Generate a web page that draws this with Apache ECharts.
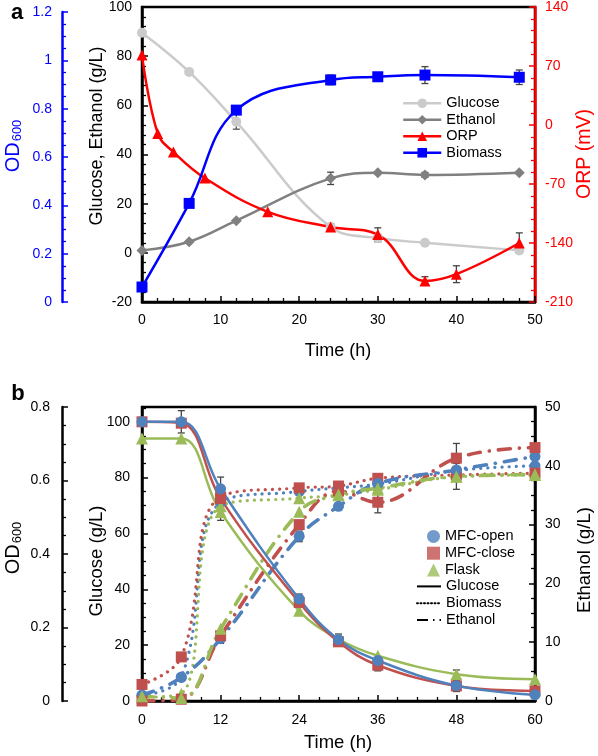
<!DOCTYPE html>
<html><head><meta charset="utf-8">
<script src="https://cdn.jsdelivr.net/npm/echarts/dist/echarts.min.js"></script>
<style>html,body{margin:0;padding:0;background:#fff}#c{width:598px;height:756px}</style>
</head><body><div id="c"></div>
<script>
// ---------- Panel a data ----------
const tA = [0, 6, 12, 24, 30, 36, 48];
const glucoseA = [89.5, 73.6, 53.3, 10.5, 6.0, 4.1, 1.0];
const glucoseErrA = [0, 0, 3, 0, 1.5, 0, 0];
const ethanolA = [1.0, 4.5, 13.1, 30.3, 32.6, 31.7, 32.6];
const ethanolErrA = [0, 0, 0, 2.5, 0, 1, 0];
const biomassA = [0.062, 0.408, 0.794, 0.919, 0.932, 0.939, 0.930];
const biomassErrA = [0, 0, 0, 0.02, 0.015, 0.035, 0.03];
const tORP = [0, 2, 4, 8, 16, 24, 30, 36, 40, 48];
const orpA = [83, -10, -32, -63, -103, -121, -130, -185, -177, -140];
const orpErrA = [0, 0, 0, 0, 0, 4, 8, 5, 10, 12];
// ---------- Panel b data ----------
const tB = [0, 6, 12, 24, 30, 36, 48, 60];
const glcOpen  = [100, 100, 76.0, 36.5, 22.0, 14.5, 5.5, 2.2];
const glcClose = [100, 99.5, 72.5, 35.3, 21.2, 12.8, 5.4, 3.6];
const glcFlask = [94, 94, 67.7, 32.3, 22.2, 16.2, 9.6, 7.8];
const glcErrOpen  = [0, 4, 4.2, 1.8, 2, 0, 0, 0];
const glcErrClose = [1.5, 0, 0, 0, 0, 2, 2, 0];
const glcErrFlask = [0, 0, 3, 0, 0, 0, 1.5, 0];
const odOpen  = [0.015, 0.065, 0.54, 0.57, 0.58, 0.59, 0.627, 0.64];
const odClose = [0.045, 0.12, 0.555, 0.58, 0.585, 0.606, 0.615, 0.62];
const odFlask = [0.01, 0.02, 0.53, 0.552, 0.56, 0.575, 0.61, 0.615];
const etOpen  = [1.0, 4.0, 10.6, 28.0, 33.1, 37.0, 39.3, 41.6];
const etClose = [0.0, 0.3, 11.1, 30.0, 35.7, 33.8, 41.3, 43.1];
const etFlask = [0.8, 0.5, 12.3, 32.2, 35.1, 36.2, 38.2, 38.5];
const etErrOpen  = [0, 0, 0.8, 0.9, 0, 0, 0, 0];
const etErrClose = [0, 0, 0, 0, 0, 1.8, 2.5, 0];
const etErrFlask = [0, 0, 0, 0, 0, 0, 2.2, 0];

const FONT = 'Liberation Sans, Arial, sans-serif';
const BLUE = '#0000ff', RED = '#ff0000';
const cOpen = '#4f81bd', cClose = '#c0504d', cFlask = '#9bbb59';

function pairs(xs, ys){ return xs.map((x,i)=>[x, ys[i]]); }
function errSeries(xs, ys, es, xi, yi, color){
  const data = [];
  xs.forEach((x,i)=>{ if (es[i] > 0) data.push([x, ys[i], es[i]]); });
  return {type:'custom', xAxisIndex:xi, yAxisIndex:yi, z:1, silent:true, data,
    encode:{x:0, y:1},
    renderItem(params, api){
      const x = api.value(0), y = api.value(1), e = api.value(2);
      const t = api.coord([x, y + e]), b = api.coord([x, y - e]);
      const w = 3.5, st = {stroke:color, lineWidth:1.3};
      return {type:'group', children:[
        {type:'line', shape:{x1:t[0], y1:t[1], x2:b[0], y2:b[1]}, style:st},
        {type:'line', shape:{x1:t[0]-w, y1:t[1], x2:t[0]+w, y2:t[1]}, style:st},
        {type:'line', shape:{x1:b[0]-w, y1:b[1], x2:b[0]+w, y2:b[1]}, style:st}
      ]};
    }};
}
function lineS(name, xs, ys, xi, yi, color, symbol, size, ls){
  return {name, type:'line', xAxisIndex:xi, yAxisIndex:yi, data:pairs(xs, ys),
    smooth:0.4, symbol, symbolSize:size, z:2,
    itemStyle:{color}, lineStyle:Object.assign({color, width:2.5}, ls || {}),
    emphasis:{disabled:true}};
}

const tickBase = (color, minorSplit) => ({
  axisLine:{show:true, onZero:false, lineStyle:{color, width:2.5}},
  axisTick:{show:true, inside:true, length:6, lineStyle:{color, width:1.5}},
  minorTick:{show:true, splitNumber:minorSplit, length:4, lineStyle:{color, width:1.3}},
  splitLine:{show:false}, minorSplitLine:{show:false}
});

const xAxes = [
  Object.assign({type:'value', gridIndex:0, min:0, max:50, interval:10,
    axisLabel:{color:'#000', fontSize:14, fontFamily:FONT, margin:11}}, tickBase('#000', 5)),
  {type:'value', gridIndex:1, min:0, max:50, show:false},
  Object.assign({type:'value', gridIndex:2, min:0, max:60, interval:12,
    axisLabel:{color:'#000', fontSize:14, fontFamily:FONT, margin:12}}, tickBase('#000', 4))
];
const yAxes = [
  Object.assign({type:'value', gridIndex:0, min:-20, max:100, interval:20, position:'left',
    axisLabel:{color:'#000', fontSize:14, fontFamily:FONT, margin:10}}, tickBase('#000', 5)),
  Object.assign({type:'value', gridIndex:0, min:-210, max:140, interval:70, position:'right',
    axisLabel:{color:RED, fontSize:14, fontFamily:FONT, margin:10}}, tickBase(RED, 5)),
  Object.assign({type:'value', gridIndex:1, min:0, max:1.2, interval:0.2, position:'left', offset:80,
    axisLabel:{color:BLUE, fontSize:14, fontFamily:FONT, margin:10,
      formatter:v=>String(Math.round(v*10)/10)}}, tickBase(BLUE, 4)),
  Object.assign({type:'value', gridIndex:2, min:0, max:105.3, interval:20, position:'left',
    axisLabel:{color:'#000', fontSize:14, fontFamily:FONT, margin:12, showMaxLabel:false}}, tickBase('#000', 4)),
  Object.assign({type:'value', gridIndex:2, min:0, max:0.8, interval:0.2, position:'left', offset:80,
    axisLabel:{color:'#000', fontSize:14, fontFamily:FONT, margin:12,
      formatter:v=>String(Math.round(v*10)/10)}}, tickBase('#000', 4)),
  Object.assign({type:'value', gridIndex:2, min:0, max:50, interval:10, position:'right',
    axisLabel:{color:'#000', fontSize:14, fontFamily:FONT, margin:10}}, tickBase('#000', 4))
];

const dotted = {type:[0.1, 7], cap:'round', width:3.2};
const dashDot = {type:[12, 9, 0.1, 9], cap:'round', width:3.6};

const series = [
  // panel a
  errSeries(tA, glucoseA, glucoseErrA, 0, 0, '#555'),
  errSeries(tA, ethanolA, ethanolErrA, 0, 0, '#444'),
  errSeries(tORP, orpA, orpErrA, 0, 1, '#444'),
  errSeries(tA, biomassA, biomassErrA, 1, 2, '#444'),
  lineS('Glucose', tA, glucoseA, 0, 0, '#cbcbcb', 'circle', 10),
  lineS('Ethanol', tA, ethanolA, 0, 0, '#808080', 'diamond', 11),
  lineS('ORP', tORP, orpA, 0, 1, RED, 'triangle', 11),
  lineS('Biomass', tA, biomassA, 1, 2, BLUE, 'rect', 11),
  // panel b error bars
  errSeries(tB, glcOpen, glcErrOpen, 2, 3, '#444'),
  errSeries(tB, glcClose, glcErrClose, 2, 3, '#444'),
  errSeries(tB, glcFlask, glcErrFlask, 2, 3, '#444'),
  errSeries(tB, etOpen, etErrOpen, 2, 5, '#444'),
  errSeries(tB, etClose, etErrClose, 2, 5, '#444'),
  errSeries(tB, etFlask, etErrFlask, 2, 5, '#444'),
  // panel b biomass (dotted)
  lineS('od-open', tB, odOpen, 2, 4, cOpen, 'circle', 11, dotted),
  lineS('od-close', tB, odClose, 2, 4, cClose, 'rect', 11, dotted),
  lineS('od-flask', tB, odFlask, 2, 4, cFlask, 'triangle', 12, dotted),
  // panel b ethanol (dash-dot)
  lineS('et-open', tB, etOpen, 2, 5, cOpen, 'circle', 11, dashDot),
  lineS('et-close', tB, etClose, 2, 5, cClose, 'rect', 11, dashDot),
  lineS('et-flask', tB, etFlask, 2, 5, cFlask, 'triangle', 12, dashDot),
  // panel b glucose (solid)
  lineS('glc-flask', tB, glcFlask, 2, 3, cFlask, 'triangle', 12),
  lineS('glc-close', tB, glcClose, 2, 3, cClose, 'rect', 11),
  lineS('glc-open', tB, glcOpen, 2, 3, cOpen, 'circle', 11),
  // legend-only entries for panel b
  {name:'MFC-open', type:'scatter', xAxisIndex:2, yAxisIndex:3, data:[], symbol:'circle', itemStyle:{color:cOpen}},
  {name:'MFC-close', type:'scatter', xAxisIndex:2, yAxisIndex:3, data:[], symbol:'rect', itemStyle:{color:cClose}},
  {name:'Flask', type:'scatter', xAxisIndex:2, yAxisIndex:3, data:[], symbol:'triangle', itemStyle:{color:cFlask}},
  {name:'b-Glucose', type:'line', xAxisIndex:2, yAxisIndex:3, data:[], symbol:'none', itemStyle:{color:'#000'}, lineStyle:{color:'#000', width:2}},
  {name:'b-Biomass', type:'line', xAxisIndex:2, yAxisIndex:3, data:[], symbol:'none', itemStyle:{color:'#000'}, lineStyle:{color:'#000', width:2, type:[1,2.5], cap:'round'}},
  {name:'b-Ethanol', type:'line', xAxisIndex:2, yAxisIndex:3, data:[], symbol:'none', itemStyle:{color:'#000'}, lineStyle:{color:'#000', width:2.5, type:[11,5,1.5,5]}}
];

const legTxt = {fontSize:14.5, fontFamily:FONT, color:'#000', lineHeight:16.5};
const option = {
  animation:false,
  backgroundColor:'#fff',
  grid:[
    {left:142, right:63, top:7, height:295, show:true, borderColor:'#000', borderWidth:2.5, outerBoundsMode:'none', containLabel:false},
    {left:142, right:63, top:12, height:290, show:false, outerBoundsMode:'none', containLabel:false},
    {left:142, right:63, top:407, height:294, show:true, borderColor:'#000', borderWidth:2.5, outerBoundsMode:'none', containLabel:false}
  ],
  xAxis:xAxes, yAxis:yAxes,
  legend:[
    {data:['Glucose','Ethanol','ORP','Biomass'], orient:'vertical', left:397, top:90,
      itemWidth:38, itemHeight:12, itemGap:0, textStyle:legTxt, selectedMode:false,
      lineStyle:{width:2.5}},
    {data:['MFC-open','MFC-close','Flask'], orient:'vertical', left:422, top:523,
      itemWidth:13, itemHeight:13, itemGap:0, textStyle:Object.assign({}, legTxt, {lineHeight:16.8}), selectedMode:false},
    {data:['b-Glucose','b-Biomass','b-Ethanol'], orient:'vertical', left:411, top:573,
      itemWidth:24, itemHeight:12, itemGap:0, textStyle:Object.assign({}, legTxt, {lineHeight:16.8}), selectedMode:false,
      itemStyle:{opacity:0, color:'rgba(0,0,0,0)', borderWidth:0},
      formatter:n=>n.replace('b-','')}
  ],
  graphic:[
    {type:'text', x:17, y:13, style:{text:'a', fontSize:22, fontWeight:'bold', fontFamily:FONT, fill:'#000', align:'center', verticalAlign:'middle', textAlign:'center', textVerticalAlign:'middle'}},
    {type:'text', x:18, y:394, style:{text:'b', fontSize:22, fontWeight:'bold', fontFamily:FONT, fill:'#000', align:'center', verticalAlign:'middle', textAlign:'center', textVerticalAlign:'middle'}},
    {type:'text', x:13, y:146, rotation:Math.PI/2, style:{text:'{a|OD}{b|600}', fill:BLUE, align:'center', verticalAlign:'middle', textAlign:'center', textVerticalAlign:'middle',
      rich:{a:{fontSize:20, fontFamily:FONT, fill:BLUE}, b:{fontSize:13, fontFamily:FONT, fill:BLUE, padding:[9,0,0,1]}}}},
    {type:'text', x:97, y:136, rotation:Math.PI/2, style:{text:'Glucose, Ethanol (g/L)', fontSize:18, fontFamily:FONT, fill:'#000', align:'center', verticalAlign:'middle', textAlign:'center', textVerticalAlign:'middle'}},
    {type:'text', x:585, y:154, rotation:Math.PI/2, style:{text:'ORP (mV)', fontSize:19.5, fontFamily:FONT, fill:RED, align:'center', verticalAlign:'middle', textAlign:'center', textVerticalAlign:'middle'}},
    {type:'text', x:338, y:351, style:{text:'Time (h)', fontSize:18, fontFamily:FONT, fill:'#000', align:'center', verticalAlign:'middle', textAlign:'center', textVerticalAlign:'middle'}},
    {type:'text', x:13, y:548, rotation:Math.PI/2, style:{text:'{a|OD}{b|600}', fill:'#000', align:'center', verticalAlign:'middle', textAlign:'center', textVerticalAlign:'middle',
      rich:{a:{fontSize:20, fontFamily:FONT, fill:'#000'}, b:{fontSize:13, fontFamily:FONT, fill:'#000', padding:[9,0,0,1]}}}},
    {type:'text', x:97, y:561, rotation:Math.PI/2, style:{text:'Glucose (g/L)', fontSize:18.5, fontFamily:FONT, fill:'#000', align:'center', verticalAlign:'middle', textAlign:'center', textVerticalAlign:'middle'}},
    {type:'text', x:585, y:560, rotation:Math.PI/2, style:{text:'Ethanol (g/L)', fontSize:18.5, fontFamily:FONT, fill:'#000', align:'center', verticalAlign:'middle', textAlign:'center', textVerticalAlign:'middle'}},
    {type:'text', x:338, y:743, style:{text:'Time (h)', fontSize:18.5, fontFamily:FONT, fill:'#000', align:'center', verticalAlign:'middle', textAlign:'center', textVerticalAlign:'middle'}}
  ],
  series
};
const chart = echarts.init(document.getElementById('c'), null, {renderer:'canvas'});
chart.setOption(option);
</script></body></html>
